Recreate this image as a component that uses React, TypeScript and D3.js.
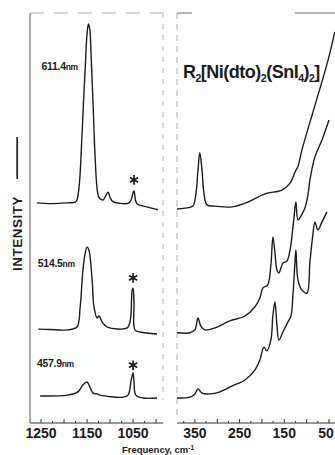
import React from "react";
import * as d3 from "d3";

// Raman spectra, three excitation lines, broken frequency axis
const laserLines = ["611.4nm", "514.5nm", "457.9nm"];

// high-frequency window [cm-1, intensity]
const hi611: [number, number][] = [
  [1259, 53.7], [1230, 53.5], [1193, 53.7], [1176, 53.9], [1172, 54.4], [1167, 58],
  [1161, 70.2], [1157, 80], [1154, 86.6], [1150, 95], [1147, 97.3], [1144, 96],
  [1141, 89], [1137, 78], [1133, 66], [1128, 57], [1124, 55], [1115, 54.4],
  [1108, 55.8], [1104, 56.3], [1100, 55], [1094, 54], [1080, 53.6], [1060, 53.6],
  [1054, 54.5], [1050, 56.2], [1048, 56.6], [1045, 54.5], [1041, 53.4], [1020, 52.7], [996, 52],
];
const hi514: [number, number][] = [
  [1256, 22.9], [1230, 22.8], [1193, 22.7], [1172, 23.4], [1165, 28.3], [1159, 37.3],
  [1154, 41.5], [1150, 42.9], [1146, 42.2], [1139, 34.9], [1135, 28.3], [1128, 25.6],
  [1124, 26.1], [1117, 24.6], [1106, 23.4], [1063, 23.2], [1056, 25.1], [1052, 32.4],
  [1050, 32.9], [1048, 29.3], [1046, 22.7], [1035, 22.2], [998, 21.7],
];
const hi457: [number, number][] = [
  [1252, 6.6], [1193, 6.8], [1170, 7.6], [1159, 9.3], [1150, 10], [1144, 8.8],
  [1137, 7.3], [1128, 7.1], [1122, 6.8], [1072, 6.3], [1061, 6.8], [1054, 10.5],
  [1050, 12.2], [1048, 10], [1044, 6.8], [1028, 6.1], [998, 6.1],
];

// low-frequency window
const lo611: [number, number][] = [
  [390, 52.2], [372, 52.4], [354.5, 52.9], [348, 55.6], [343, 61.7], [339, 65.9],
  [334, 61.7], [330, 56.3], [323, 53.2], [305, 52.9], [267, 52.7], [231, 53.9],
  [193, 55.9], [155, 56.8], [137, 58.5], [126, 61.2], [119, 62.7], [110.5, 66.6],
  [81, 77.6], [52, 88.5], [37, 95.4],
];
const lo514: [number, number][] = [
  [390, 22], [361, 22], [350, 22.7], [343, 25.6], [337, 23.7], [328, 22.7],
  [305, 23.2], [272, 24.9], [238, 26.1], [216, 28.3], [204.5, 30.5], [198, 32.9],
  [187, 33.7], [180, 38.5], [175.4, 45.4], [171, 41.7], [166.4, 37.3], [162, 36.6],
  [153, 39], [144, 39.5], [137, 42.2], [133, 45.4], [128.4, 50], [124, 53.9],
  [119.4, 49.5], [112.7, 50.5], [104, 52.4], [97, 55.6], [92.6, 59.3], [81.4, 64.9],
  [65.7, 69], [50, 73.9],
];
const lo457: [number, number][] = [
  [390, 6.1], [361, 6.3], [350, 7.1], [343, 8.3], [334, 7.3], [316, 7.1],
  [294, 7.6], [267, 9], [238, 10.5], [216, 12.9], [204.5, 15.4], [195.5, 18.5],
  [189, 17.6], [180, 20.2], [175.4, 26.3], [171, 29.5], [166.4, 23.9], [162, 20.2],
  [153, 22.2], [142, 24.6], [135, 26.1], [130.6, 31.2], [126, 39.3], [124, 42.2],
  [119.4, 34.9], [110.5, 32.4], [99.3, 31.7], [92.6, 39.3], [86, 45.9], [81.4, 49],
  [74.7, 47.1], [65.7, 49], [54.5, 51.5],
];

// line labels [cm-1, intensity] and the reference-band asterisks
const labelPos: [number, number][] = [[1249, 86.1], [1257, 38], [1259, 13.7]];
const starPos: [number, number][] = [[1048, 59.3], [1050, 35.4], [1050, 14.1]];

const hiTickLabels = [1250, 1150, 1050];
const loTickLabels = [350, 250, 150, 50];

const W = 335, H = 455;
const font = "'Liberation Sans', Arial, sans-serif";
const ink = "#1c1c1c";

export default function App() {
  const y = d3.scaleLinear().domain([0, 100]).range([423, 13]);
  const xHi = d3.scaleLinear().domain([1274, 985]).range([30, 163]);
  const xLo = d3.scaleLinear().domain([390, 36.5]).range([177, 335]);

  const lineHi = d3.line<[number, number]>().x((d) => xHi(d[0])).y((d) => y(d[1])).curve(d3.curveCatmullRom.alpha(0.5));
  const lineLo = d3.line<[number, number]>().x((d) => xLo(d[0])).y((d) => y(d[1])).curve(d3.curveCatmullRom.alpha(0.5));

  const hiTicks = d3.range(1250, 985, -25);
  const loTicks = d3.range(375, 36, -25);
  const star = d3.symbol(d3.symbolAsterisk, 64)()!;

  const nmParts = (s: string) => [s.replace("nm", ""), "nm"];

  return (
    <svg width={W} height={H} style={{ position: "absolute", left: 0, top: 0, background: "#fff" }}>
      {/* frames */}
      <g fill="none">
        <line x1={30} x2={30} y1={13} y2={423} stroke="#555" strokeWidth={1} />
        <line x1={30} x2={163} y1={13} y2={13} stroke="#999" strokeWidth={0.8} strokeDasharray="14 10" />
        <line x1={163} x2={163} y1={13} y2={400} stroke="#999" strokeWidth={0.8} strokeDasharray="5 6" />
        <line x1={30} x2={163} y1={423} y2={423} stroke="#333" strokeWidth={1} />
        <line x1={177} x2={177} y1={13} y2={418} stroke="#999" strokeWidth={0.8} strokeDasharray="6 5" />
        <line x1={177} x2={192} y1={13} y2={13} stroke="#555" strokeWidth={0.9} />
        <line x1={295} x2={335} y1={13} y2={13} stroke="#555" strokeWidth={0.9} />
        <line x1={177} x2={335} y1={423} y2={423} stroke="#333" strokeWidth={1} />
      </g>

      {/* ticks */}
      {hiTicks.map((t) => (
        <line key={"h" + t} x1={xHi(t)} x2={xHi(t)} y1={423} y2={t % 50 === 0 ? 419 : 421} stroke="#333" strokeWidth={1} />
      ))}
      {loTicks.map((t) => (
        <line key={"l" + t} x1={xLo(t)} x2={xLo(t)} y1={423} y2={t % 50 === 0 ? 419 : 421} stroke="#333" strokeWidth={1} />
      ))}
      <g fontFamily={font} fontWeight="bold" fontSize={14} fill={ink} textAnchor="middle">
        {hiTickLabels.map((t) => (
          <text key={t} x={xHi(t)} y={438}>{t}</text>
        ))}
        {loTickLabels.map((t) => (
          <text key={t} x={Math.min(xLo(t), 326)} y={438}>{t}</text>
        ))}
      </g>
      <text x={158} y={453} fontFamily={font} fontWeight="bold" fontSize={9.5} fill={ink} textAnchor="middle">
        Frequency, cm<tspan dy={-3.5} fontSize={6.5}>-1</tspan>
      </text>

      {/* intensity label */}
      <g transform="translate(22,271) rotate(-90)">
        <text x={0} y={0} fontFamily={font} fontWeight="bold" fontSize={13.5} letterSpacing={0.5} fill={ink}>INTENSITY</text>
        <line x1={92} x2={134} y1={-4.8} y2={-4.8} stroke={ink} strokeWidth={1.7} />
      </g>

      {/* spectra */}
      <g fill="none" stroke={ink} strokeWidth={1.4} strokeLinejoin="round">
        {[hi611, hi514, hi457].map((s, i) => (
          <path key={"hi" + i} d={lineHi(s)!} />
        ))}
        {[lo611, lo514, lo457].map((s, i) => (
          <path key={"lo" + i} d={lineLo(s)!} />
        ))}
      </g>

      {/* laser lines */}
      {laserLines.map((l, i) => {
        const [num, unit] = nmParts(l);
        return (
          <text key={l} x={xHi(labelPos[i][0])} y={y(labelPos[i][1])} fontFamily={font} fontWeight="bold" fill={ink} fontSize={10.5} letterSpacing={-0.3}>
            {num}<tspan fontSize={8.5}>{unit}</tspan>
          </text>
        );
      })}
      {starPos.map((p, i) => (
        <path key={"s" + i} d={star} transform={`translate(${xHi(p[0])},${y(p[1])})`} stroke={ink} strokeWidth={1.7} fill="none" />
      ))}

      {/* compound */}
      <text x={183} y={78} fontFamily={font} fontWeight="bold" fontSize={18} fill={ink} letterSpacing={-0.5}>
        R<tspan fontSize={10.5} dy={4}>2</tspan>
        <tspan dy={-4}>[Ni(dto)</tspan>
        <tspan fontSize={10.5} dy={4}>2</tspan>
        <tspan dy={-4}>(SnI</tspan>
        <tspan fontSize={10.5} dy={4}>4</tspan>
        <tspan dy={-4}>)</tspan>
        <tspan fontSize={10.5} dy={4}>2</tspan>
        <tspan dy={-4}>]</tspan>
      </text>
    </svg>
  );
}
